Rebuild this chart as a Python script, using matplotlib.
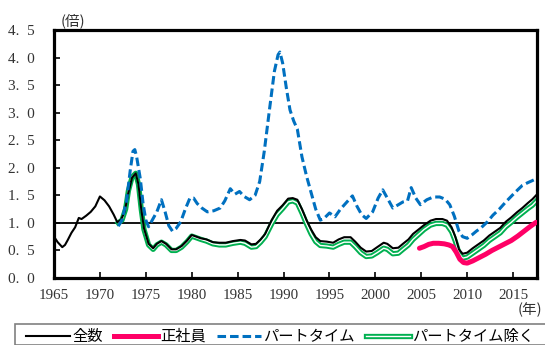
import matplotlib
matplotlib.use("Agg")
import matplotlib.pyplot as plt
import matplotlib.patheffects as pe
from matplotlib.lines import Line2D
from matplotlib.patches import Rectangle
import numpy as np

# 全数 (all workers)
total_years = [1965.0, 1965.4, 1965.9, 1966.2, 1966.5, 1966.9, 1967.3, 1967.7, 1968.0, 1968.5,
               1969.0, 1969.5, 1970.0, 1970.5, 1971.0, 1971.5, 1971.9, 1972.3, 1972.7, 1973.1,
               1973.5, 1973.9, 1974.2, 1974.5, 1974.8, 1975.3, 1975.8, 1976.2, 1976.7, 1977.2,
               1977.8, 1978.3, 1978.9, 1979.5, 1980.0, 1980.5, 1981.0, 1981.6, 1982.3, 1983.0,
               1983.7, 1984.5, 1985.3, 1985.8, 1986.5, 1987.0, 1987.5, 1988.0, 1988.7, 1989.3,
               1989.9, 1990.5, 1991.0, 1991.5, 1992.0, 1992.5, 1993.0, 1993.5, 1994.0, 1994.7,
               1995.4, 1996.0, 1996.6, 1997.3, 1997.8, 1998.4, 1999.0, 1999.6, 2000.2, 2000.9,
               2001.3, 2001.9, 2002.5, 2003.0, 2003.6, 2004.1, 2004.7, 2005.3, 2006.0, 2006.6,
               2007.3, 2007.8, 2008.3, 2008.7, 2009.1, 2009.5, 2010.0, 2010.6, 2011.2, 2011.8,
               2012.4, 2013.0, 2013.6, 2014.2, 2014.8, 2015.4, 2016.0, 2016.6, 2017.1, 2017.5]
total_vals = [0.75, 0.65, 0.56, 0.60, 0.69, 0.82, 0.92, 1.09, 1.07, 1.13,
              1.20, 1.30, 1.48, 1.41, 1.30, 1.15, 1.01, 1.06, 1.20, 1.55,
              1.82, 1.90, 1.70, 1.25, 0.90, 0.62, 0.54, 0.62, 0.67, 0.62,
              0.52, 0.52, 0.58, 0.68, 0.78, 0.75, 0.72, 0.70, 0.65, 0.64,
              0.64, 0.67, 0.69, 0.68, 0.61, 0.62, 0.70, 0.80, 1.05, 1.22,
              1.32, 1.44, 1.45, 1.42, 1.25, 1.05, 0.88, 0.74, 0.67, 0.66,
              0.64, 0.70, 0.74, 0.74, 0.66, 0.55, 0.48, 0.49, 0.56, 0.64,
              0.62, 0.54, 0.55, 0.62, 0.70, 0.80, 0.88, 0.96, 1.04, 1.07,
              1.07, 1.04, 0.92, 0.75, 0.52, 0.44, 0.46, 0.54, 0.61, 0.68,
              0.77, 0.84, 0.91, 1.02, 1.10, 1.19, 1.27, 1.36, 1.43, 1.50]

# パートタイム除く (excluding part-time)
expt_years = [1972.0, 1972.4, 1972.8, 1973.1, 1973.5, 1973.9, 1974.2, 1974.5, 1974.8, 1975.3,
              1975.8, 1976.2, 1976.7, 1977.2, 1977.8, 1978.3, 1978.9, 1979.5, 1980.0, 1980.5,
              1981.0, 1981.6, 1982.3, 1983.0, 1983.7, 1984.5, 1985.3, 1985.8, 1986.5, 1987.0,
              1987.5, 1988.0, 1988.7, 1989.3, 1989.9, 1990.5, 1991.0, 1991.5, 1992.0, 1992.5,
              1993.0, 1993.5, 1994.0, 1994.7, 1995.4, 1996.0, 1996.6, 1997.3, 1997.8, 1998.4,
              1999.0, 1999.6, 2000.2, 2000.9, 2001.3, 2001.9, 2002.5, 2003.0, 2003.6, 2004.1,
              2004.7, 2005.3, 2006.0, 2006.6, 2007.3, 2007.8, 2008.3, 2008.7, 2009.1, 2009.5,
              2010.0, 2010.6, 2011.2, 2011.8, 2012.4, 2013.0, 2013.6, 2014.2, 2014.8, 2015.4,
              2016.0, 2016.6, 2017.1, 2017.5]
expt_vals = [1.00, 1.05, 1.25, 1.58, 1.83, 1.90, 1.70, 1.25, 0.88, 0.60,
             0.52, 0.60, 0.65, 0.60, 0.50, 0.50, 0.56, 0.66, 0.76, 0.73,
             0.70, 0.67, 0.62, 0.60, 0.60, 0.63, 0.65, 0.63, 0.56, 0.57,
             0.65, 0.75, 0.98, 1.15, 1.26, 1.38, 1.40, 1.36, 1.18, 0.98,
             0.80, 0.66, 0.59, 0.58, 0.56, 0.61, 0.65, 0.65, 0.57, 0.46,
             0.39, 0.40, 0.46, 0.54, 0.52, 0.44, 0.45, 0.52, 0.60, 0.70,
             0.79, 0.88, 0.96, 0.99, 0.99, 0.96, 0.84, 0.67, 0.45, 0.36,
             0.38, 0.45, 0.52, 0.59, 0.68, 0.75, 0.82, 0.93, 1.01, 1.10,
             1.18, 1.26, 1.32, 1.39]

# パートタイム (part-time)
part_years = [1972.0, 1972.4, 1972.9, 1973.3, 1973.6, 1973.8, 1974.0, 1974.4, 1974.7, 1975.0,
              1975.3, 1975.7, 1976.2, 1976.7, 1977.1, 1977.5, 1977.9, 1978.3, 1978.8, 1979.3,
              1979.8, 1980.2, 1980.6, 1981.1, 1981.7, 1982.4, 1983.1, 1983.6, 1984.2, 1984.7,
              1985.2, 1985.7, 1986.3, 1986.9, 1987.4, 1987.9, 1988.5, 1989.0, 1989.4, 1989.6,
              1989.9, 1990.3, 1990.7, 1991.1, 1991.5, 1992.0, 1992.5, 1993.0, 1993.5, 1994.0,
              1994.4, 1995.0, 1995.6, 1996.2, 1996.9, 1997.5, 1998.0, 1998.5, 1999.0, 1999.7,
              2000.3, 2000.8, 2001.3, 2001.9, 2002.5, 2003.0, 2003.5, 2003.9, 2004.4, 2004.9,
              2005.6, 2006.3, 2007.0, 2007.6, 2008.1, 2008.6, 2009.1, 2009.5, 2010.0, 2010.5,
              2011.0, 2011.5, 2012.2, 2012.8, 2013.5, 2014.2, 2014.9, 2015.5, 2016.0, 2016.6,
              2017.0, 2017.5]
part_vals = [0.94, 1.05, 1.40, 1.95, 2.30, 2.33, 2.20, 1.80, 1.35, 1.05,
             0.93, 1.05, 1.20, 1.42, 1.20, 0.95, 0.85, 0.90, 1.02, 1.25,
             1.45, 1.45, 1.35, 1.27, 1.20, 1.22, 1.27, 1.40, 1.62, 1.52,
             1.57, 1.48, 1.42, 1.50, 1.75, 2.30, 3.10, 3.75, 4.05, 4.10,
             3.90, 3.45, 3.05, 2.85, 2.70, 2.20, 1.85, 1.55, 1.25, 1.05,
             1.08, 1.18, 1.11, 1.25, 1.38, 1.49, 1.30, 1.15, 1.08, 1.20,
             1.45, 1.60, 1.45, 1.27, 1.33, 1.38, 1.40, 1.64, 1.45, 1.33,
             1.42, 1.47, 1.47, 1.43, 1.33, 1.12, 0.85, 0.75, 0.72, 0.78,
             0.85, 0.91, 1.02, 1.14, 1.25, 1.38, 1.50, 1.60, 1.68, 1.73,
             1.76, 1.80]

# 正社員 (regular employees)
reg_years = [2004.8, 2005.3, 2005.8, 2006.3, 2006.9, 2007.5, 2008.0, 2008.4, 2008.8, 2009.2,
             2009.6, 2010.0, 2010.6, 2011.3, 2012.0, 2012.7, 2013.4, 2014.1, 2014.8, 2015.5,
             2016.2, 2016.9, 2017.5]
reg_vals = [0.54, 0.57, 0.61, 0.63, 0.63, 0.62, 0.60, 0.57, 0.47, 0.34,
            0.28, 0.27, 0.31, 0.37, 0.43, 0.50, 0.56, 0.62, 0.68, 0.76,
            0.85, 0.94, 1.01]

labels = ["全数", "正社員", "パートタイム", "パートタイム除く"]

BLUE = "#0070C0"
PINK = "#FF0066"
GREEN = "#00B050"
JP_FONT = ["Noto Sans CJK JP", "DejaVu Sans"]
NUM_FONT = "Liberation Serif"

W, H = 545, 345
fig = plt.figure(figsize=(W / 100, H / 100), dpi=100)
ax = fig.add_axes([54 / W, 1 - 278 / H, (537 - 54) / W, (278 - 30) / H])

green_fx = [pe.Stroke(linewidth=3.8, foreground=GREEN), pe.Normal()]

ax.axhline(1.0, color="black", lw=1.3, zorder=1)
ax.plot(expt_years, expt_vals, color="white", lw=1.0, path_effects=green_fx, zorder=2)
ax.plot(total_years, total_vals, color="black", lw=1.5, zorder=3)
ax.plot(part_years, part_vals, color=BLUE, lw=2.2, linestyle=(0, (2.8, 1.3)), zorder=4)
ax.plot(reg_years, reg_vals, color=PINK, lw=3.6, solid_capstyle="round", zorder=5)

ax.set_xlim(1965, 2017.6)
ax.set_ylim(0, 4.5)
ax.set_xticks(range(1965, 2020, 5))
yt = np.arange(0, 4.51, 0.5)
ax.set_yticks(yt)
ax.set_yticklabels([f"{v:.1f}".replace(".", ".  ") for v in yt])
ax.tick_params(axis="y", direction="in", length=4, width=1.2, pad=14,
               labelsize=11, labelcolor="#333333")
ax.tick_params(axis="x", direction="in", length=4, width=1.2, pad=8,
               labelsize=10.8, labelcolor="#333333")
for lab in ax.get_xticklabels() + ax.get_yticklabels():
    lab.set_fontfamily(NUM_FONT)
for side in ["left", "right", "top", "bottom"]:
    ax.spines[side].set_linewidth(2.3)

fig.text(61 / W, 1 - 21 / H, "(倍)", family=JP_FONT, fontsize=10.5,
         ha="left", va="center", color="#333333")
fig.text(542 / W, 1 - 310 / H, "(年)", family=JP_FONT, fontsize=10.5,
         ha="right", va="center", color="#333333")

# legend frame runs off the bottom/right edge
fig.patches.append(Rectangle((14.6 / W, 0), 560 / W, 1 - 323.6 / H,
                             transform=fig.transFigure, fill=False,
                             edgecolor="#808080", lw=1.2))

handles = [
    Line2D([], [], color="black", lw=1.5),
    Line2D([], [], color=PINK, lw=3.6),
    Line2D([], [], color=BLUE, lw=2.2, linestyle=(0, (2.8, 1.3))),
    Line2D([], [], color="white", lw=1.0, path_effects=green_fx),
]
fig.legend(handles, labels, loc="center left", bbox_to_anchor=(26 / W, 1 - 336.5 / H),
           ncol=4, frameon=False, handlelength=2.9, handletextpad=0.15,
           columnspacing=0.7, borderpad=0, borderaxespad=0,
           prop={"family": JP_FONT, "size": 11.0})

fig.savefig("out.png", dpi=100)
